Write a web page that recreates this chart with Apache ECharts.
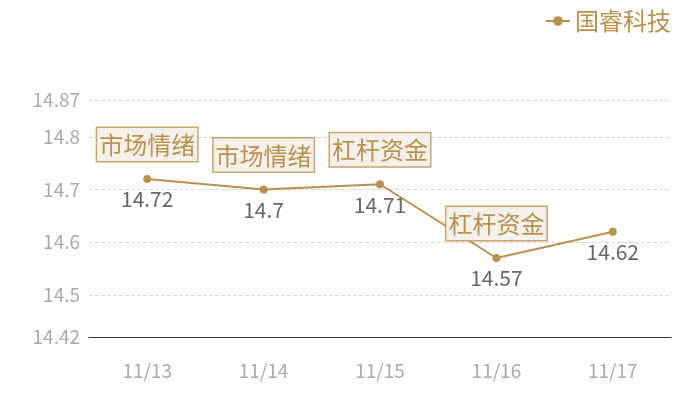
<!DOCTYPE html>
<html>
<head>
<meta charset="utf-8">
<script src="https://cdn.jsdelivr.net/npm/echarts@6/dist/echarts.min.js"></script>
<style>
  html, body { margin: 0; padding: 0; background: #fff; }
  #charts_box { width: 700px; height: 400px; }
</style>
</head>
<body>
<div id="charts_box"></div>
<script>
var categories = ['11/13', '11/14', '11/15', '11/16', '11/17'];
var prices = [14.72, 14.7, 14.71, 14.57, 14.62];
// 标注：索引 -> 文字
var tagIndex = [0, 1, 2, 3];
var tagText = ['市场情绪', '市场情绪', '杠杆资金', '杠杆资金'];
var yMin = 14.42;
var yMax = 14.87;

window.onload = function () {
    var myChart = echarts.init(document.getElementById('charts_box'));
    var gold = '#b8914f';
    var font = '"Noto Sans CJK SC", "Noto Sans", sans-serif';

    var marks = tagIndex.map(function (idx, i) {
        return { name: tagText[i], coord: [categories[idx], prices[idx]] };
    });

    var option = {
        textStyle: { fontFamily: font },
        legend: {
            right: 24,
            top: 4,
            itemWidth: 24,
            itemHeight: 12,
            itemGap: 6,
            textStyle: { color: gold, fontSize: 24, fontFamily: font },
            data: ['国睿科技']
        },
        grid: { left: 89, right: 29, top: 100, bottom: 63 },
        xAxis: {
            type: 'category',
            data: categories,
            boundaryGap: true,
            axisLine: { lineStyle: { color: '#333', width: 1 } },
            axisTick: { show: false },
            axisLabel: { color: '#aaa', fontSize: 19, margin: 24, fontFamily: font }
        },
        yAxis: {
            type: 'value',
            min: yMin,
            max: yMax,
            axisLine: { show: false },
            axisTick: { show: false },
            axisLabel: { color: '#aaa', fontSize: 19, margin: 9, fontFamily: font },
            splitLine: { lineStyle: { type: 'dashed', color: '#d8d8d8' } }
        },
        series: [
            {
                name: '国睿科技',
                type: 'line',
                data: prices,
                symbol: 'circle',
                symbolSize: 8,
                lineStyle: { color: gold, width: 2 },
                itemStyle: { color: gold },
                label: {
                    show: true,
                    position: 'bottom',
                    distance: 6,
                    color: '#666',
                    fontSize: 21,
                    fontFamily: font
                },
                markPoint: {
                    symbol: 'circle',
                    symbolSize: 0,
                    z: 10,
                    label: {
                        show: true,
                        position: 'top',
                        distance: 18,
                        formatter: '{b}',
                        color: gold,
                        fontSize: 24,
                        lineHeight: 24,
                        fontFamily: font,
                        backgroundColor: '#f4f0ea',
                        borderColor: '#c9a56f',
                        borderWidth: 1.5,
                        padding: [5, 2, 4, 2]
                    },
                    data: marks
                }
            }
        ]
    };
    myChart.setOption(option);
};
</script>
</body>
</html>
